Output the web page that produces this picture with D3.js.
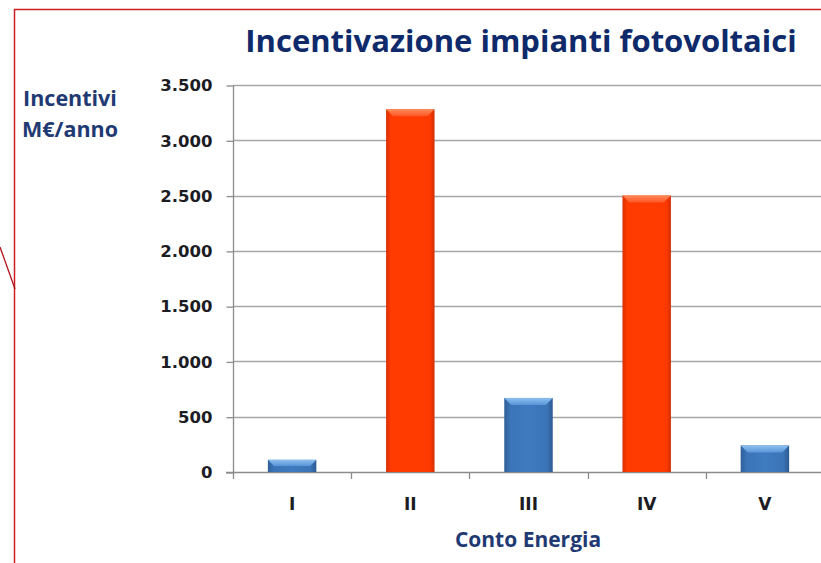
<!DOCTYPE html>
<html><head><meta charset="utf-8">
<script src="https://cdn.jsdelivr.net/npm/d3@7"></script>
<style>body{margin:0;background:#fff}svg{display:block}</style>
</head><body>
<script>
const categories = ["I","II","III","IV","V"];
const values = [110, 3280, 670, 2500, 240];
const highlight = [false, true, false, true, false];
const yTicks = [0,500,1000,1500,2000,2500,3000,3500];
const titleText = "Incentivazione impianti fotovoltaici";
const yLabel = ["Incentivi","M€/anno"];
const xLabel = "Conto Energia";

const W = 821, H = 563;
const svg = d3.select("body").append("svg").attr("width",W).attr("height",H);
const defs = svg.append("defs");

function grad(id, stops){
  const g = defs.append("linearGradient").attr("id",id).attr("x1","0").attr("x2","1").attr("y1","0").attr("y2","0");
  stops.forEach(s=>g.append("stop").attr("offset",s[0]).attr("stop-color",s[1]));
}
grad("gBlue",[[0,"#2f5f98"],[0.12,"#3b74b7"],[0.5,"#3f7bc0"],[0.88,"#3b74b7"],[1,"#2c5a90"]]);
grad("gRed",[[0,"#d93000"],[0.1,"#ff3a00"],[0.5,"#ff3b00"],[0.9,"#ff3a00"],[1,"#d42e00"]]);
const vb = defs.append("linearGradient").attr("id","gBlueTop").attr("x1","0").attr("x2","0").attr("y1","0").attr("y2","1");
vb.append("stop").attr("offset",0).attr("stop-color","#8cc0f0");
vb.append("stop").attr("offset",1).attr("stop-color","#5a95d8");
const vr = defs.append("linearGradient").attr("id","gRedTop").attr("x1","0").attr("x2","0").attr("y1","0").attr("y2","1");
vr.append("stop").attr("offset",0).attr("stop-color","#ff8a5a");
vr.append("stop").attr("offset",1).attr("stop-color","#ff5522");

// frame
svg.append("path").attr("d","M14.5,"+H+" V9.5 H"+W).attr("fill","none").attr("stroke","#cc1f1f").attr("stroke-width",1.5);
svg.append("line").attr("x1",0).attr("y1",247).attr("x2",15).attr("y2",289).attr("stroke","#b0141a").attr("stroke-width",1.3);

const x0 = 233, bandW = 118.2;
const x = d3.scaleBand().domain(categories).range([x0, x0 + bandW*categories.length]).paddingInner(0.59).paddingOuter(0.295);
const y = d3.scaleLinear().domain([0,3500]).range([472,85]);

// gridlines
svg.append("g").selectAll("line").data(yTicks.slice(1)).join("line")
  .attr("x1",x0).attr("x2",W).attr("y1",d=>Math.round(y(d))+0.5).attr("y2",d=>Math.round(y(d))+0.5)
  .attr("stroke","#a6a6a6").attr("stroke-width",1.3);

const tickFont = "'DejaVu Sans', sans-serif";
// y axis
const yAxis = d3.axisLeft(y).tickValues(yTicks).tickSize(7).tickPadding(14)
  .tickFormat(d=>d3.format(",")(d).replace(/,/g,"."));
const gy = svg.append("g").attr("transform","translate("+(x0+0.5)+",0.5)").call(yAxis);
gy.select(".domain").attr("stroke","#8c8c8c").attr("stroke-width",1.3).attr("d","M0,"+y(0)+"V"+y(3500));
gy.selectAll(".tick line").attr("stroke","#8c8c8c").attr("stroke-width",1.3);
gy.selectAll("text").attr("font-family",tickFont).attr("font-weight","bold").attr("font-size",16.5).attr("fill","#1c1c24");

// x axis
const boundaries = d3.range(categories.length+1).map(i=>x0 + i*bandW);
svg.append("line").attr("x1",x0-7).attr("x2",W).attr("y1",472.5).attr("y2",472.5).attr("stroke","#8c8c8c").attr("stroke-width",1.3);
svg.append("g").selectAll("line").data(boundaries).join("line")
  .attr("x1",d=>Math.round(d)+0.5).attr("x2",d=>Math.round(d)+0.5).attr("y1",472).attr("y2",479)
  .attr("stroke","#8c8c8c").attr("stroke-width",1.3);
svg.append("g").selectAll("text").data(categories).join("text")
  .attr("x",d=>x(d)+x.bandwidth()/2).attr("y",510).attr("text-anchor","middle")
  .attr("font-family",tickFont).attr("font-weight","bold").attr("font-size",17).attr("fill","#1c1c24")
  .text(d=>d);

// bars
const bars = svg.append("g").selectAll("g").data(categories).join("g");
bars.append("rect")
  .attr("x",d=>x(d)).attr("width",x.bandwidth())
  .attr("y",(d,i)=>y(values[i])).attr("height",(d,i)=>y(0)-y(values[i]))
  .attr("fill",(d,i)=>highlight[i]?"url(#gRed)":"url(#gBlue)");
bars.append("path")
  .attr("d",(d,i)=>{
    const l = x(d), r = x(d)+x.bandwidth(), t = y(values[i]);
    const b = Math.min(7, (y(0)-t)/2);
    return "M"+l+","+t+"H"+r+"L"+(r-b)+","+(t+b)+"H"+(l+b)+"Z";
  })
  .attr("fill",(d,i)=>highlight[i]?"url(#gRedTop)":"url(#gBlueTop)");

// titles
svg.append("text").attr("x",521).attr("y",52).attr("text-anchor","middle")
  .attr("font-family","'Open Sans', sans-serif").attr("font-weight","bold").attr("font-size",31)
  .attr("fill","#0f2a6b").text(titleText);
svg.append("g").selectAll("text").data(yLabel).join("text")
  .attr("x",70).attr("y",(d,i)=>106+i*31).attr("text-anchor","middle")
  .attr("font-family","'Open Sans', sans-serif").attr("font-weight","bold").attr("font-size",21.5)
  .attr("fill","#1f3a73").text(d=>d);
svg.append("text").attr("x",528).attr("y",547).attr("text-anchor","middle")
  .attr("font-family","'Open Sans', sans-serif").attr("font-weight","bold").attr("font-size",21)
  .attr("fill","#1f3a73").text(xLabel);
</script>
</body></html>
